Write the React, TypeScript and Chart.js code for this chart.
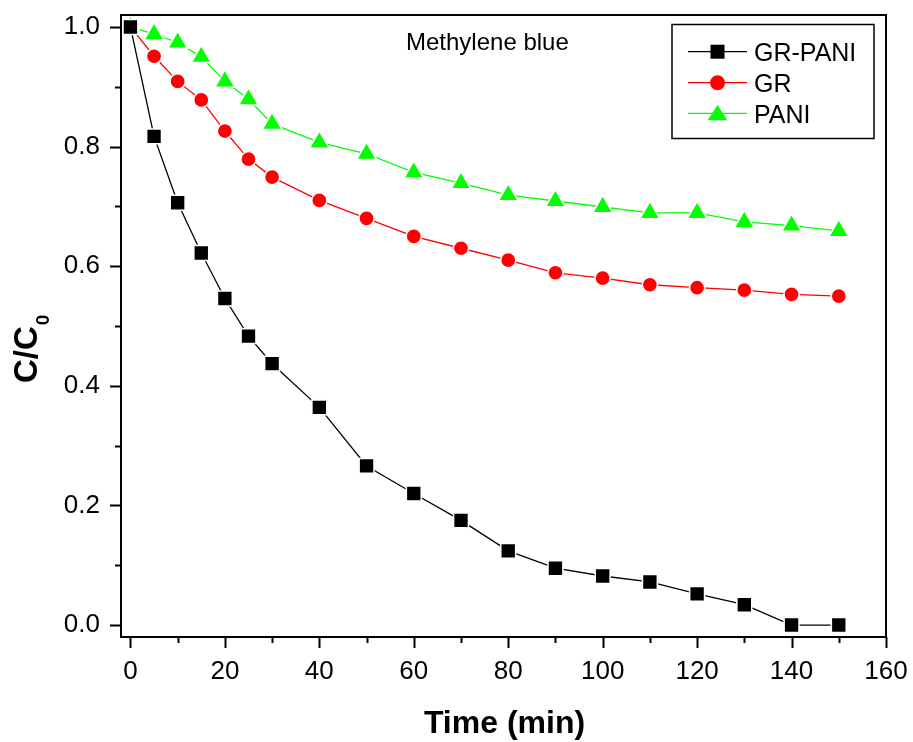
import React, { useEffect, useRef } from "react";
import { Chart, registerables } from "chart.js";

Chart.register(...registerables);

// ---- data ----
const times = [0, 5, 10, 15, 20, 25, 30, 40, 50, 60, 70, 80, 90, 100, 110, 120, 130, 140, 150];
const grPani = [1.0, 0.817, 0.706, 0.622, 0.546, 0.483, 0.437, 0.364, 0.266, 0.22, 0.175, 0.124, 0.095, 0.082, 0.072, 0.052, 0.034, 0.0, 0.0];
const gr = [1.0, 0.951, 0.909, 0.878, 0.826, 0.779, 0.749, 0.71, 0.68, 0.65, 0.63, 0.61, 0.589, 0.58, 0.569, 0.564, 0.56, 0.553, 0.55];
const pani = [1.0, 0.988, 0.974, 0.95, 0.909, 0.879, 0.838, 0.807, 0.788, 0.757, 0.739, 0.719, 0.709, 0.699, 0.689, 0.689, 0.674, 0.668, 0.659];
const seriesLabels = ["GR-PANI", "GR", "PANI"];

const xMajorTicks = [0, 20, 40, 60, 80, 100, 120, 140, 160];
const xMinorTicks = [10, 30, 50, 70, 90, 110, 130, 150];
const yMajorTicks = [0, 0.2, 0.4, 0.6, 0.8, 1.0];
const yMinorTicks = [0.1, 0.3, 0.5, 0.7, 0.9];

const annotationText = "Methylene blue";
const xTitle = "Time (min)";
const yTitleMain = "C/C";
const yTitleSub = "0";

const FONT = "'Liberation Sans', Arial, Helvetica, sans-serif";

function markerPath(ctx: CanvasRenderingContext2D, style: string, x: number, y: number, s: number) {
  ctx.beginPath();
  if (style === "rect") {
    ctx.rect(x - s / 2, y - s / 2, s, s);
  } else if (style === "circle") {
    ctx.arc(x, y, s / 2, 0, Math.PI * 2);
  } else {
    const h = s * 0.8;
    ctx.moveTo(x, y - h * 0.55);
    ctx.lineTo(x + s * 0.52, y + h * 0.45);
    ctx.lineTo(x - s * 0.52, y + h * 0.45);
    ctx.closePath();
  }
}

const decorPlugin = {
  id: "decor",
  afterDraw(chart: any) {
    const ctx: CanvasRenderingContext2D = chart.ctx;
    const area = chart.chartArea;
    const xs = chart.scales.x;
    const ys = chart.scales.y;
    ctx.save();
    // frame
    ctx.strokeStyle = "#000";
    ctx.lineWidth = 2;
    ctx.strokeRect(area.left, area.top, area.right - area.left, area.bottom - area.top);
    // ticks
    ctx.lineWidth = 2;
    ctx.beginPath();
    for (const v of xMajorTicks) {
      const px = Math.round(xs.getPixelForValue(v)) + 0.5;
      ctx.moveTo(px, area.bottom);
      ctx.lineTo(px, area.bottom + 11);
    }
    for (const v of xMinorTicks) {
      const px = Math.round(xs.getPixelForValue(v)) + 0.5;
      ctx.moveTo(px, area.bottom);
      ctx.lineTo(px, area.bottom + 6);
    }
    for (const v of yMajorTicks) {
      const py = Math.round(ys.getPixelForValue(v)) + 0.5;
      ctx.moveTo(area.left, py);
      ctx.lineTo(area.left - 11, py);
    }
    for (const v of yMinorTicks) {
      const py = Math.round(ys.getPixelForValue(v)) + 0.5;
      ctx.moveTo(area.left, py);
      ctx.lineTo(area.left - 6, py);
    }
    ctx.stroke();

    // annotation
    ctx.fillStyle = "#000";
    ctx.font = `24px ${FONT}`;
    ctx.textAlign = "left";
    ctx.textBaseline = "alphabetic";
    ctx.fillText(annotationText, 406, 49.5);

    // x title
    ctx.font = `bold 32px ${FONT}`;
    ctx.textAlign = "center";
    ctx.fillText(xTitle, (area.left + area.right) / 2 + 1, 732.5);

    // y title
    ctx.save();
    ctx.translate(37, 383);
    ctx.rotate(-Math.PI / 2);
    ctx.textAlign = "left";
    ctx.font = `bold 33px ${FONT}`;
    ctx.fillText(yTitleMain, 0, 0);
    const w = ctx.measureText(yTitleMain).width;
    ctx.font = `bold 19px ${FONT}`;
    ctx.fillText(yTitleSub, w + 1, 12);
    ctx.restore();

    // legend
    const lx = 672, ly = 24.5, lw = 202, lh = 114;
    ctx.lineWidth = 1.5;
    ctx.strokeStyle = "#000";
    ctx.strokeRect(lx, ly, lw, lh);
    const rows = [51.7, 82.7, 113.3];
    const sizes = [14, 15, 19];
    chart.data.datasets.forEach((ds: any, i: number) => {
      const cy = rows[i];
      ctx.strokeStyle = ds.borderColor;
      ctx.lineWidth = 1.3;
      ctx.beginPath();
      ctx.moveTo(688, cy);
      ctx.lineTo(747, cy);
      ctx.stroke();
      ctx.fillStyle = ds.pointBackgroundColor;
      markerPath(ctx, ds.pointStyle, 717.5, cy, sizes[i]);
      ctx.fill();
      ctx.fillStyle = "#000";
      ctx.font = `25px ${FONT}`;
      ctx.textAlign = "left";
      ctx.textBaseline = "alphabetic";
      ctx.fillText(ds.label, 754, cy + 9.3);
    });
    ctx.restore();
  },
};

export default function App() {
  const canvasRef = useRef<HTMLCanvasElement | null>(null);

  useEffect(() => {
    const canvas = canvasRef.current;
    if (!canvas) return;
    const mk = (label: string, values: number[], color: string, style: string, radius: number) => ({
      label,
      data: times.map((t, i) => ({ x: t, y: values[i] })),
      borderColor: color,
      backgroundColor: color,
      pointBackgroundColor: color,
      pointBorderColor: "#ffffff",
      pointBorderWidth: 1.5,
      pointStyle: style,
      pointRadius: radius,
      pointHoverRadius: radius,
      borderWidth: 1.3,
      tension: 0,
      clip: false as any,
    });
    const chart = new Chart(canvas, {
      type: "scatter",
      data: {
        datasets: [
          mk(seriesLabels[0], grPani, "#000000", "rect", 10.5),
          mk(seriesLabels[1], gr, "#ff0000", "circle", 7.6),
          mk(seriesLabels[2], pani, "#00ff00", "triangle", 11.5),
        ] as any,
      },
      options: {
        responsive: false,
        animation: false,
        showLine: true,
        layout: { padding: { left: 0, top: 15, right: 27, bottom: 0 } },
        plugins: {
          legend: { display: false },
          tooltip: { enabled: false },
          title: { display: false },
        },
        scales: {
          x: {
            type: "linear",
            min: -2,
            max: 160,
            border: { display: false },
            grid: { display: false, drawTicks: true, tickLength: 11 },
            ticks: {
              color: "#000",
              padding: 11,
              maxRotation: 0,
              font: { family: FONT, size: 26, lineHeight: 1 },
            },
            afterBuildTicks: (scale: any) => {
              scale.ticks = xMajorTicks.map((v) => ({ value: v }));
            },
            afterFit: (scale: any) => {
              scale.height = 105;
              scale.paddingLeft = 0;
              scale.paddingRight = 0;
            },
          },
          y: {
            type: "linear",
            min: -0.02,
            max: 1.02,
            border: { display: false },
            grid: { display: false, drawTicks: true, tickLength: 11 },
            ticks: {
              color: "#000",
              padding: 10,
              font: { family: FONT, size: 26, lineHeight: 1 },
              callback: (v: any) => Number(v).toFixed(1),
            },
            afterBuildTicks: (scale: any) => {
              scale.ticks = yMajorTicks.map((v) => ({ value: v }));
            },
            afterFit: (scale: any) => {
              scale.width = 121;
              scale.paddingTop = 0;
              scale.paddingBottom = 0;
            },
          },
        },
      } as any,
      plugins: [decorPlugin],
    });
    return () => chart.destroy();
  }, []);

  return (
    <div style={{ position: "absolute", left: 0, top: 0, width: 913, height: 742, background: "#fff" }}>
      <canvas ref={canvasRef} width={913} height={742} style={{ display: "block", width: 913, height: 742 }} />
    </div>
  );
}
